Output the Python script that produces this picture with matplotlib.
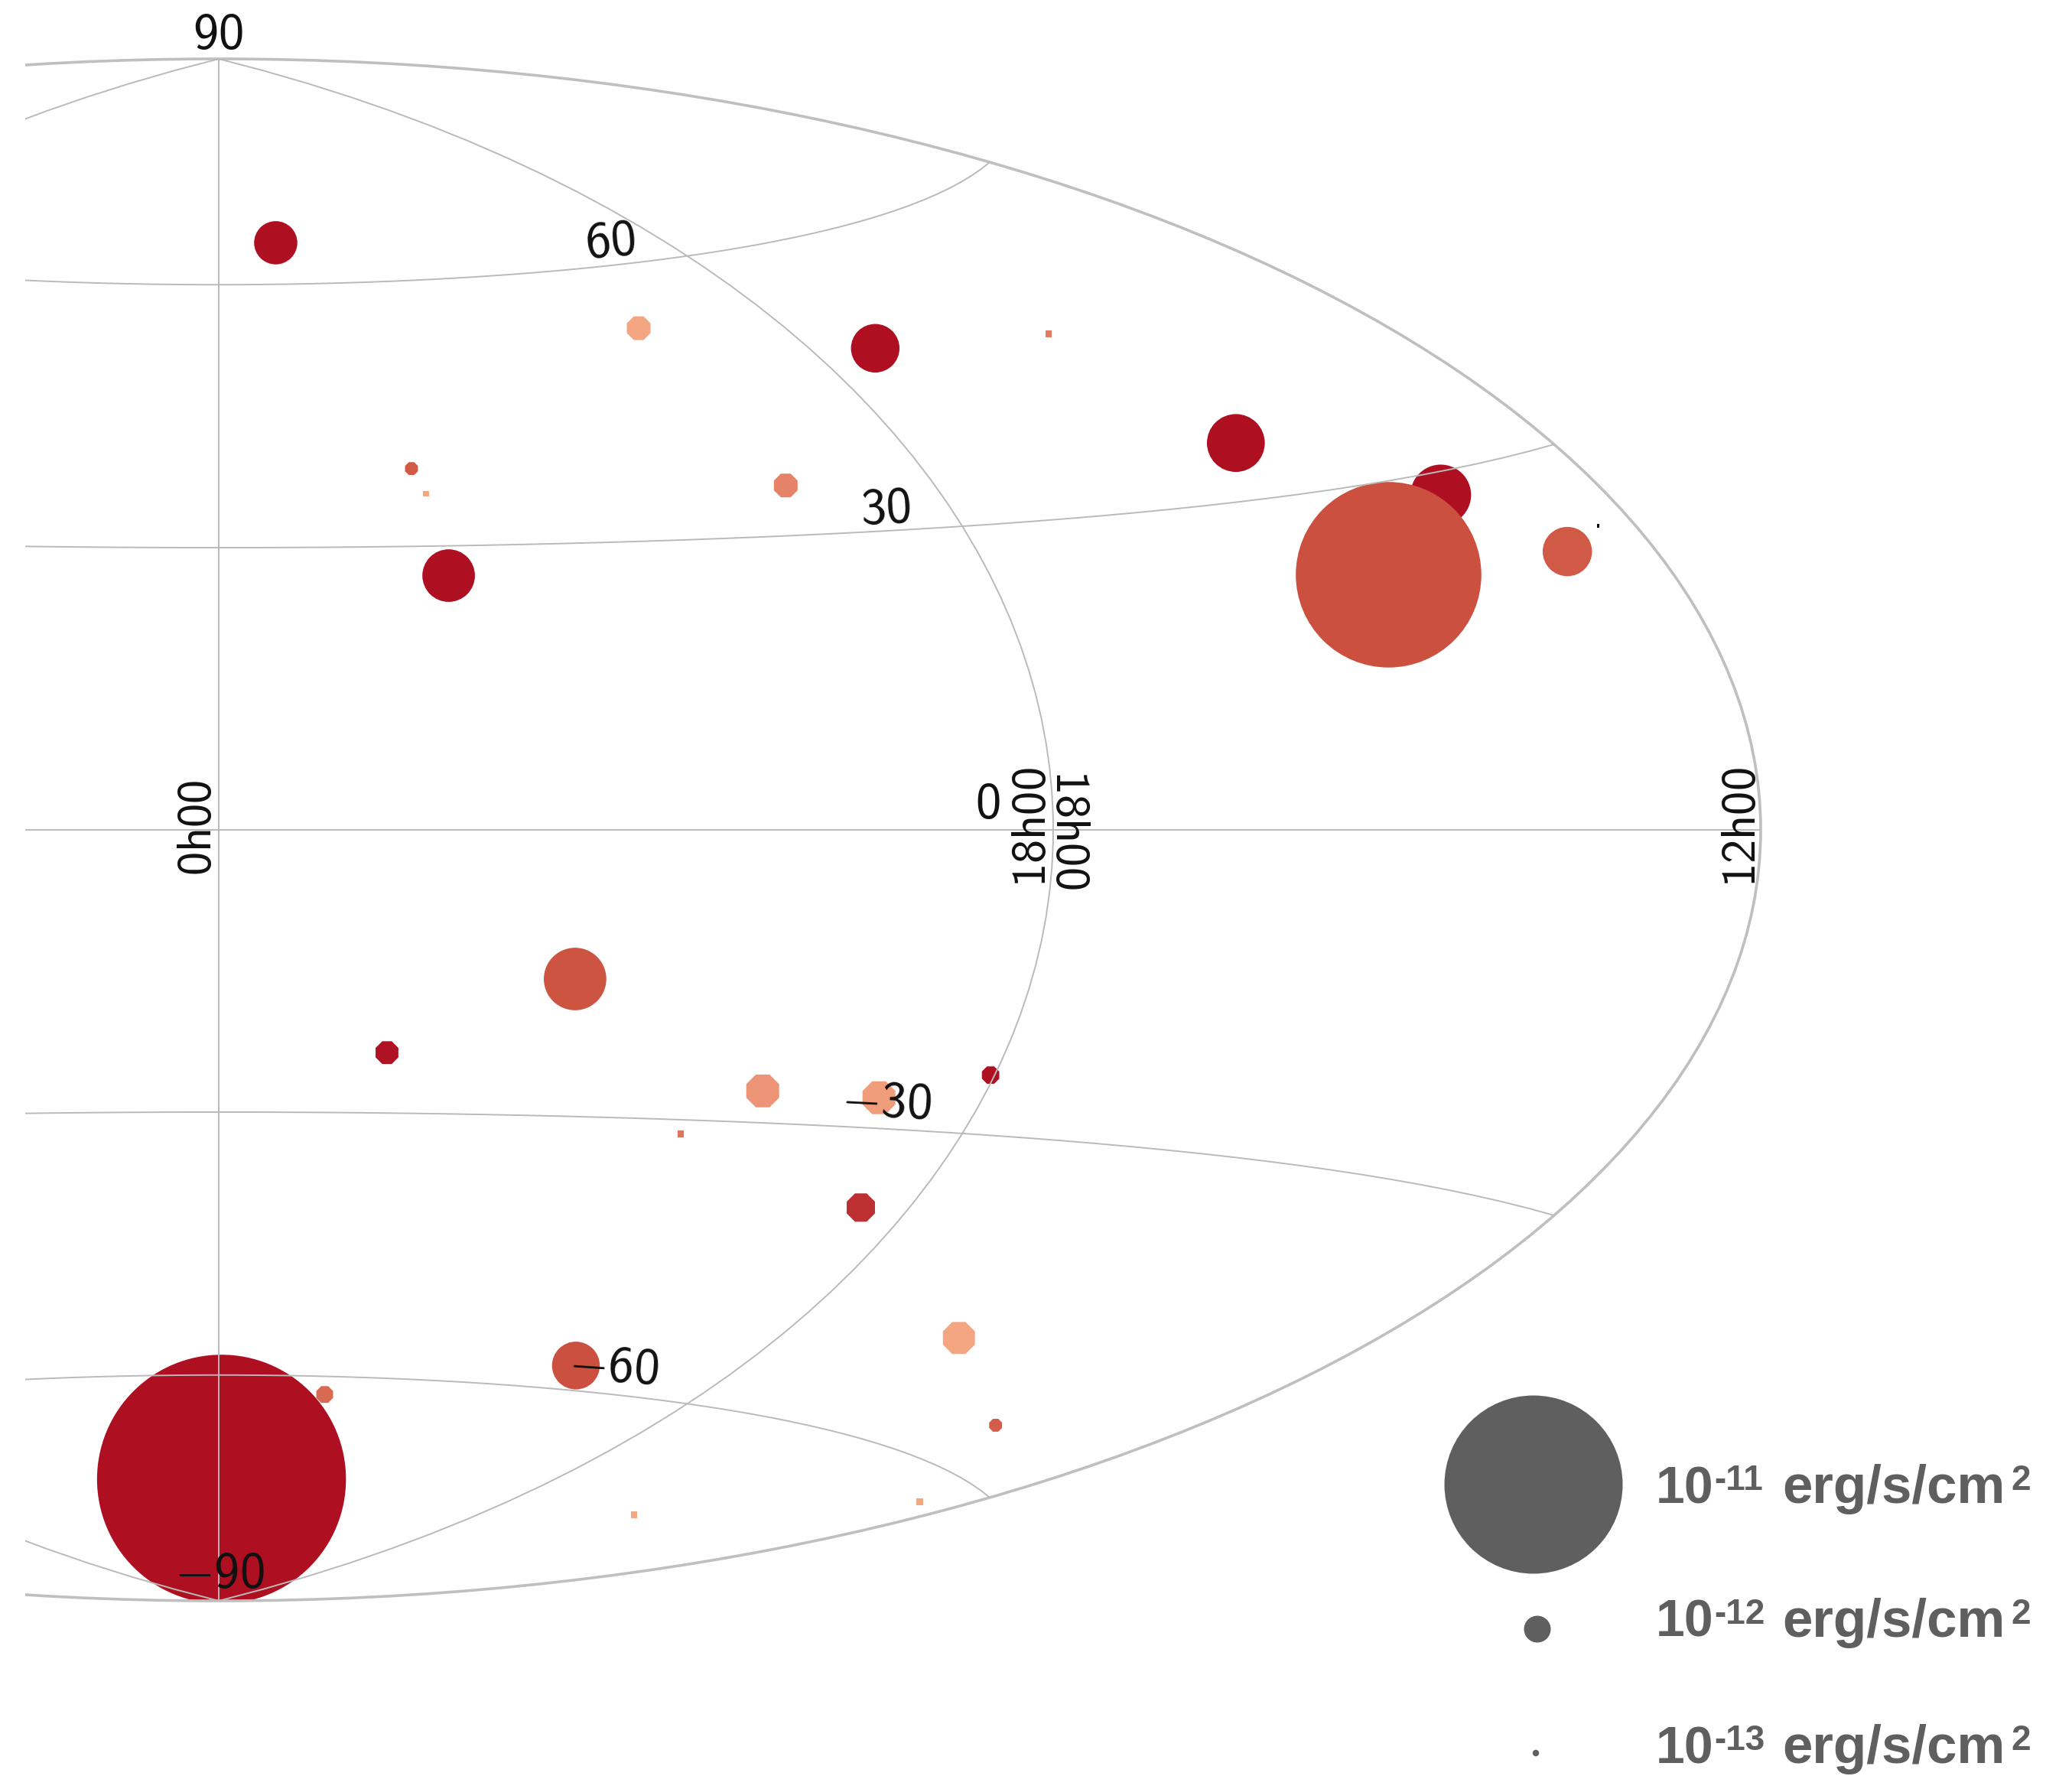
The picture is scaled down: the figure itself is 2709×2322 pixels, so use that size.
import numpy as np
import matplotlib
matplotlib.use("Agg")
import matplotlib.pyplot as plt
from matplotlib.colors import LinearSegmentedColormap

plt.rcParams['mathtext.fontset'] = 'custom'
plt.rcParams['mathtext.rm'] = 'cmss10'
plt.rcParams['mathtext.fallback'] = 'cm'

# sources: right ascension, declination (degrees), flux (erg/s/cm2), colour index
ra = [348.0, 292.8, 260.2, 231.6, 225.0, 204.0, 219.8, 193.0, 335.5, 334.4,
      289.0, 333.6, 321.3, 341.1, 296.8, 282.6, 270.5, 304.5, 276.4, 242.3,
      297.7, 339.5, 211.0, 231.4, 188.3, 359.2]
dec = [65.1, 52.9, 48.3, 47.1, 35.1, 28.2, 22.3, 22.3, 38.5, 35.7,
       35.2, 26.8, -15.5, -23.5, -26.7, -26.9, -24.1, -31.5, -38.1, -49.6,
       -57.2, -62.2, -55.9, -71.4, -62.4, -73.1]
flux = [1.79e-12, 8.6e-13, 2.06e-12, 1.3e-13, 2.55e-12, 2.7e-12, 1.05e-11, 2.1e-12, 3.2e-13, 1.1e-13,
        8.6e-13, 2.27e-12, 2.8e-12, 8.1e-13, 1.33e-12, 1.33e-12, 5.2e-13, 1.3e-13, 1.11e-12, 1.29e-12,
        2.02e-12, 4.9e-13, 3.2e-13, 1.3e-13, 1.3e-13, 1.5e-11]
index = [0.0, 1.0, 0.0, 0.75, 0.0, 0.0, 0.5, 0.56, 0.56, 1.0,
         0.8, 0.0, 0.52, 0.02, 0.9, 0.95, 0.0, 0.72, 0.25, 1.0,
         0.5, 0.65, 0.58, 1.0, 1.0, 0.0]

# the very faint one, black
faint_ra = [185.6]
faint_dec = [23.8]

ra_ticks = ["0h00", "18h00", "18h00", "12h00"]
dec_ticks = ["90", "60", "30", "0", "-30", "-60", "-90"]
legend_flux = [1e-11, 1e-12, 1e-13]
legend_labels = ["-11", "-12", "-13"]

W, H = 2709, 2322
fig = plt.figure(figsize=(W / 100, H / 100), dpi=100, facecolor='white')

# flux -> marker diameter in pixels
def diameter(f):
    return 10 ** np.interp(np.log10(f), [-14, -13, -12, -11, -10],
                           np.log10([2.1, 8.5, 35, 233, 1555]))

cmap = LinearSegmentedColormap.from_list('flux', ['#ae1022', '#cc503f', '#f4a582'])

# ellipse centre (286,1085), half axes 2016 and 1008 pixels, hangs off the left side
ax = fig.add_axes([(286 - 2016) / W, (H - 1085 - 1008) / H, 4032 / W, 2016 / H],
                  projection='hammer')
ax.set_longitude_grid(90)
ax.set_latitude_grid(30)
ax.set_longitude_grid_ends(90)
ax.set_xticklabels([])
ax.set_yticklabels([])
ax.set_axisbelow(False)
ax.grid(True, color='#bababa', lw=1.4)
ax.tick_params(length=0)
for s in ax.spines.values():
    s.set_color('#bfbfbf')
    s.set_linewidth(2.6)

lon = np.radians(360 - np.array(ra))
lat = np.radians(np.array(dec))
f = np.array(flux)
c = np.array(index)
d = diameter(f)
# low resolution original: tiny ones come out as squares, middle ones as octagons
tiers = [(f < 2e-13, 's', 0.85), ((f >= 2e-13) & (f < 1.5e-12), '8', 1.05), (f >= 1.5e-12, 'o', 1.0)]
for i, (mask, marker, scale) in enumerate(tiers):
    ax.scatter(lon[mask], lat[mask], s=(d[mask] * scale * 0.72) ** 2, c=c[mask], marker=marker,
               cmap=cmap, vmin=0, vmax=1, linewidths=0, zorder=1)
ax.scatter(np.radians(360 - np.array(faint_ra)), np.radians(faint_dec), s=5, marker='|',
           c='black', linewidths=2.2, zorder=1)

# overlay in picture pixels for labels and the size legend
over = fig.add_axes([0, 0, 1, 1], facecolor='none')
over.set_xlim(0, W)
over.set_ylim(H, 0)
over.axis('off')
over.axvspan(0, 33, color='white', lw=0)


def tick(x, y, s, rot=0, size=48):
    over.text(x, y, r"$\mathrm{" + s + "}$", ha='center', va='center', rotation=rot,
              fontsize=size, color='#111111')


tick(285, 45, dec_ticks[0])
tick(798, 316, dec_ticks[1], 5)
tick(1158, 665, dec_ticks[2], 3)
tick(1291, 1051, dec_ticks[3])
tick(1159, 1441, dec_ticks[4], -3)
tick(802, 1787, dec_ticks[5], -4)
tick(287, 2057, dec_ticks[6])
tick(259, 1082, ra_ticks[0], 90, 45)
tick(1350, 1082, ra_ticks[1], 90, 45)
tick(1398, 1084, ra_ticks[2], 270, 45)
tick(2278, 1082, ra_ticks[3], 90, 45)

# size legend
grey = '#5f5f5f'
font = 'Liberation Sans'
over.scatter([2005, 2010, 2008], [1941, 2130, 2292], s=(diameter(np.array(legend_flux)) * 0.72) ** 2,
             c=grey, linewidths=0)
for lab, base in zip(legend_labels, [1965, 2140, 2305]):
    over.text(2165, base, "10", fontsize=49, fontweight='bold', color=grey, family=font, va='baseline')
    over.text(2241, base - 17, lab, fontsize=33, fontweight='bold', color=grey, family=font, va='baseline')
    over.text(2330, base, "erg/s/cm", fontsize=51, fontweight='bold', color=grey, family=font, va='baseline')
    over.text(2629, base - 17, "2", fontsize=33, fontweight='bold', color=grey, family=font, va='baseline')

fig.savefig('out.png', dpi=100)
